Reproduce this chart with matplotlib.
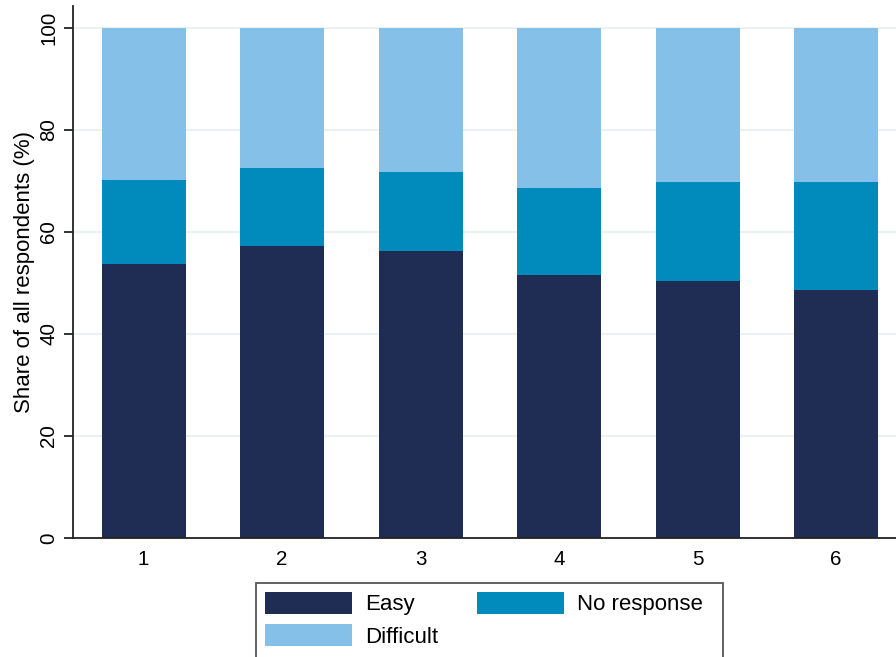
import numpy as np
import matplotlib.pyplot as plt
from matplotlib.patches import Rectangle

plt.rcParams['font.family'] = ['Liberation Sans', 'DejaVu Sans']

# values (%)
groups = ['1', '2', '3', '4', '5', '6']
easy = [53.7, 57.3, 56.2, 51.5, 50.4, 48.7]
no_response = [16.4, 15.2, 15.6, 17.1, 19.4, 21.1]
difficult = [29.9, 27.5, 28.2, 31.4, 30.2, 30.2]

col_easy = '#1f2d54'
col_nr = '#008bbc'
col_diff = '#85c0e9'

fig = plt.figure(figsize=(8.96, 6.57), dpi=100)
ax = fig.add_axes([73/896, 1-538/657, 1-73/896, (538-6)/657])

x = np.arange(1, len(groups)+1)
w = 0.607
easy = np.array(easy)
no_response = np.array(no_response)
difficult = np.array(difficult)

b1 = ax.bar(x, easy, w, color=col_easy, label='Easy', linewidth=0, zorder=2)
b2 = ax.bar(x, no_response, w, bottom=easy, color=col_nr, label='No response', linewidth=0, zorder=2)
b3 = ax.bar(x, difficult, w, bottom=easy+no_response, color=col_diff, label='Difficult', linewidth=0, zorder=2)

ax.set_xlim(0.49, 6.433)
ax.set_ylim(0, 104.3)
ax.set_yticks([0, 20, 40, 60, 80, 100])
ax.set_xticks(x)
ax.set_xticklabels(groups)
for t in ax.get_yticklabels():
    t.set_rotation(90)
    t.set_va('center')
ax.tick_params(axis='both', labelsize=14.8, color='#222222', labelcolor='black')
ax.tick_params(axis='y', length=6.5, width=1.3, pad=4)
ax.tick_params(axis='x', length=0, pad=8.5)
ax.set_ylabel('Share of all respondents (%)', fontsize=16, labelpad=3)

ax.yaxis.grid(True, color='#eaf2f3', linewidth=1.5, zorder=0)
ax.set_axisbelow(True)
for s in ['top', 'right']:
    ax.spines[s].set_visible(False)
for s in ['left', 'bottom']:
    ax.spines[s].set_linewidth(1.3)
    ax.spines[s].set_color('#222222')

leg = fig.legend([b1, b3, b2], ['Easy', 'Difficult', 'No response'], ncol=2,
                 loc='upper left', bbox_to_anchor=(256/896, 1-583/657),
                 fontsize=16, frameon=False, borderaxespad=0,
                 handlelength=3.9, handleheight=1.15, handletextpad=0.62,
                 columnspacing=1.73, labelspacing=0.4, borderpad=0.4)

# legend box, open at the bottom edge of the image like the original
fig.patches.append(Rectangle((256/896, -0.02), (723-256)/896, 0.02+(657-583)/657,
                             transform=fig.transFigure, fill=False,
                             edgecolor='#555555', linewidth=1.3))

fig.savefig('out.png', dpi=100)
